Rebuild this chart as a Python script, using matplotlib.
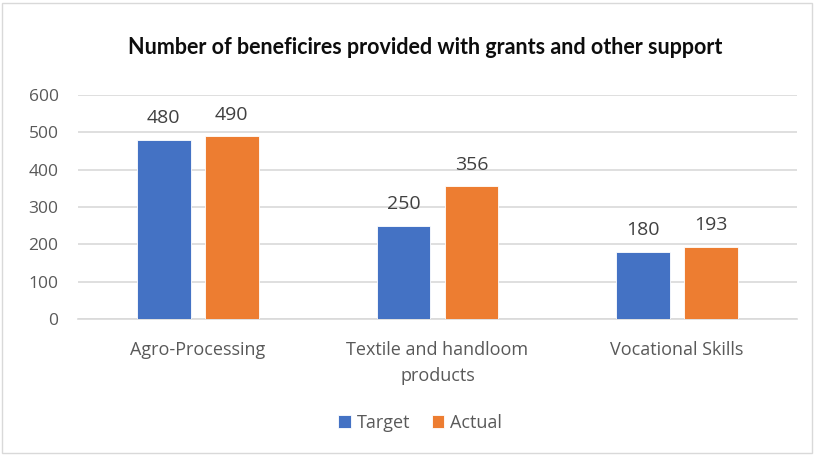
import matplotlib.pyplot as plt
import numpy as np
from matplotlib.patches import Rectangle

categories = ['Agro-Processing', 'Textile and handloom\nproducts', 'Vocational Skills']
target = [480, 250, 180]
actual = [490, 356, 193]
series_names = ['Target', 'Actual']
yticks = [0, 100, 200, 300, 400, 500, 600]

blue = '#4472C4'
orange = '#ED7D31'
text_col = '#595959'

plt.rcParams['font.family'] = ['Open Sans', 'DejaVu Sans']

fig = plt.figure(figsize=(8.14, 4.57), dpi=100)
ax = fig.add_axes([78 / 814, 1 - 319 / 457, 719 / 814, 224 / 457])

x = np.arange(len(categories))
w = 0.225
off = 0.142
b1 = ax.bar(x - off, target, w, color=blue, edgecolor='white', linewidth=0.6, label=series_names[0], zorder=3)
b2 = ax.bar(x + off, actual, w, color=orange, edgecolor='white', linewidth=0.6, label=series_names[1], zorder=3)

for bars in (b1, b2):
    ax.bar_label(bars, padding=9, fontsize=14, color='#404040')

ax.set_xlim(-0.5, len(categories) - 0.5)
ax.set_ylim(0, 600)
ax.set_yticks(yticks)
ax.set_xticks(x)
ax.set_xticklabels(categories, linespacing=1.55)
ax.yaxis.grid(True, color='#D9D9D9', linewidth=1.2, zorder=0)
ax.tick_params(axis='y', length=0, pad=14, labelsize=12.5, labelcolor=text_col)
ax.tick_params(axis='x', length=0, pad=16, labelsize=13, labelcolor=text_col)
for s in ['top', 'right', 'left']:
    ax.spines[s].set_visible(False)
ax.spines['bottom'].set_color('#D9D9D9')
ax.spines['bottom'].set_linewidth(1.2)

fig.text(425 / 814, 1 - 47 / 457, 'Number of beneficires provided with grants and other support',
         ha='center', va='center', fontsize=15.5, fontweight='bold', color='#0D0D0D',
         family=['Lato', 'DejaVu Sans'])

fig.legend(loc='center', bbox_to_anchor=(420 / 814, 1 - 423 / 457), ncol=2, frameon=False,
           fontsize=13, labelcolor=text_col, handlelength=0.7, handleheight=0.7,
           handletextpad=0.3, columnspacing=1.2)

fig.patches.append(Rectangle((2 / 814, 4 / 457), 810 / 814, 450 / 457, transform=fig.transFigure,
                             fill=False, edgecolor='#D9D9D9', linewidth=1))

fig.savefig('out.png', dpi=100)
